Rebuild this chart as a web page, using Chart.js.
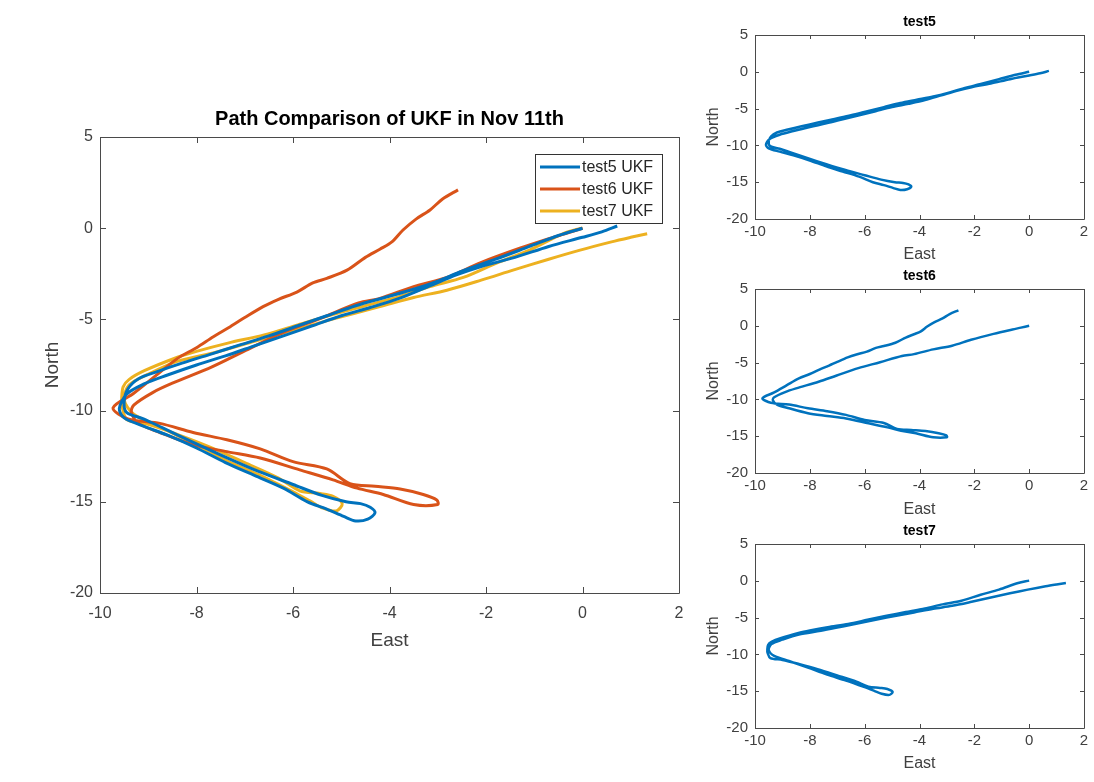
<!DOCTYPE html>
<html>
<head>
<meta charset="utf-8">
<script src="https://cdn.jsdelivr.net/npm/chart.js@4/dist/chart.umd.min.js"></script>
<style>
  html, body { margin: 0; padding: 0; background: #fff; }
  body { width: 1094px; height: 782px; position: relative; overflow: hidden; }
  canvas { position: absolute; }
</style>
</head>
<body>
<canvas id="mainChart" width="700" height="558" style="left:0px;top:95px"></canvas>
<canvas id="test5Chart" width="410" height="259" style="left:690px;top:5px"></canvas>
<canvas id="test6Chart" width="410" height="260" style="left:690px;top:259px"></canvas>
<canvas id="test7Chart" width="410" height="259" style="left:690px;top:514px"></canvas>
<script>
// axis ticks
const eastTicks = [-10, -8, -6, -4, -2, 0, 2];
const northTicks = [-20, -15, -10, -5, 0, 5];

// test5 UKF path
const east5 = [0.0, -0.5, -1.1, -1.8, -2.5, -3.0, -3.5, -4.1, -4.7, -5.3, -5.9, -6.5, -7.1, -7.7, -8.3, -8.8, -9.2, -9.42, -9.5, -9.45,
  -9.1, -8.7, -8.1, -7.4, -6.7, -6.0, -5.4, -4.9, -4.6, -4.4, -4.3, -4.45, -4.7, -4.95, -5.3, -5.7,
  -6.2, -6.8, -7.4, -8.0, -8.6, -9.1, -9.5, -9.6, -9.45,
  -9.1, -8.6, -8.0, -7.4, -6.8, -6.2, -5.6, -5.0, -4.4, -3.8, -3.2, -2.6, -2.1, -1.4, -0.7, 0.0, 0.4, 0.72];
const north5 = [0.0, -0.4, -1.0, -1.7, -2.35, -2.9, -3.35, -3.8, -4.25, -4.8, -5.35, -5.9, -6.4, -6.9, -7.4, -7.85, -8.25, -8.8, -9.5, -10.1,
  -10.45, -10.95, -11.7, -12.55, -13.35, -14.05, -14.65, -15.0, -15.1, -15.3, -15.6, -15.95, -16.05, -15.8, -15.4, -15.0,
  -14.25, -13.55, -12.85, -12.05, -11.35, -10.85, -10.4, -9.9, -9.1,
  -8.55, -8.05, -7.5, -7.0, -6.45, -5.9, -5.35, -4.8, -4.35, -3.85, -3.2, -2.55, -2.1, -1.6, -1.0, -0.5, -0.2, 0.12];

// test6 UKF path
const east6 = [-2.58, -2.9, -3.16, -3.45, -3.72, -3.95, -4.2, -4.5, -4.88, -5.3, -5.59, -5.92, -6.3, -6.62, -7.0, -7.3, -7.65, -8.0, -8.4, -8.85, -9.3, -9.73,
  -9.42, -8.76, -8.07, -7.37, -6.68, -6.0, -5.3, -4.82, -4.3, -3.78, -3.3, -3.02, -3.0,
  -3.5, -4.13, -4.67, -5.17, -5.86, -6.68, -7.37, -8.07, -8.76, -9.2, -9.35, -9.3,
  -8.9, -8.5, -7.68, -7.02, -6.23, -5.44, -4.64, -4.2, -3.5, -2.81, -2.12, -1.3, -0.61, -0.3, 0.0];
const north6 = [2.1, 1.6, 1.0, 0.5, -0.1, -0.75, -1.15, -1.6, -2.3, -2.75, -3.0, -3.5, -3.9, -4.3, -4.9, -5.4, -5.95, -6.55, -7.15, -8.1, -9.05, -9.85,
  -10.45, -10.7, -11.2, -11.6, -12.1, -12.8, -13.2, -14.0, -14.15, -14.3, -14.6, -14.9, -15.15,
  -15.15, -14.6, -14.25, -13.8, -13.25, -12.6, -12.25, -11.87, -11.2, -10.7, -10.1, -9.7,
  -9.0, -8.5, -7.6, -6.75, -5.75, -4.95, -4.1, -3.85, -3.2, -2.7, -1.9, -1.1, -0.5, -0.25, 0.0];

// test7 UKF path
const east7 = [0.0, -0.4, -1.1, -1.77, -2.47, -3.16, -3.8, -4.5, -5.2, -5.9, -6.6, -7.35, -8.0, -8.38, -9.07, -9.4, -9.52, -9.55, -9.54, -9.44,
  -9.0, -8.4, -7.72, -7.0, -6.3, -5.86, -5.44, -5.17, -4.98, -5.1, -5.38, -5.65, -6.0, -6.68, -7.37, -8.07, -8.76, -9.3, -9.5, -9.4, -9.0,
  -8.4, -7.6, -6.8, -6.0, -5.2, -4.2, -3.5, -2.81, -2.1, -1.44, -0.7, -0.05, 0.6, 1.0, 1.34];
const north7 = [0.02, -0.3, -1.2, -1.9, -2.7, -3.2, -3.75, -4.25, -4.75, -5.3, -5.85, -6.3, -6.75, -7.06, -7.8, -8.3, -8.7, -9.3, -9.8, -10.5,
  -10.75, -11.3, -12.0, -12.85, -13.7, -14.4, -14.55, -14.7, -15.1, -15.5, -15.35, -14.95, -14.45, -13.55, -12.75, -11.8, -10.9, -10.2, -9.4, -8.6, -8.0,
  -7.3, -6.8, -6.2, -5.6, -5.0, -4.3, -3.8, -3.4, -2.85, -2.3, -1.7, -1.2, -0.75, -0.5, -0.3];

const seriesNames = ['test5 UKF', 'test6 UKF', 'test7 UKF'];
const smallTitles = ['test5', 'test6', 'test7'];
const seriesColors = ['#0072BD', '#D95319', '#EDB120'];

const FONT = '"Liberation Sans", Arial, Helvetica, sans-serif';

function toPoints(xs, ys) {
  return xs.map((v, i) => ({ x: v, y: ys[i] }));
}
const paths = [toPoints(east5, north5), toPoints(east6, north6), toPoints(east7, north7)];

// matlab style box with inward ticks
const boxPlugin = {
  id: 'box',
  afterDatasetsDraw(chart, args, opts) {
    const { ctx, chartArea: a, scales: { x, y } } = chart;
    const len = opts.tick || 5;
    ctx.save();
    ctx.strokeStyle = '#4a4a4a';
    ctx.lineWidth = 1;
    ctx.beginPath();
    ctx.rect(Math.round(a.left) + 0.5, Math.round(a.top) + 0.5, Math.round(a.right - a.left), Math.round(a.bottom - a.top));
    x.ticks.forEach(t => {
      const px = Math.round(x.getPixelForValue(t.value)) + 0.5;
      ctx.moveTo(px, a.bottom); ctx.lineTo(px, a.bottom - len);
      ctx.moveTo(px, a.top); ctx.lineTo(px, a.top + len);
    });
    y.ticks.forEach(t => {
      const py = Math.round(y.getPixelForValue(t.value)) + 0.5;
      ctx.moveTo(a.left, py); ctx.lineTo(a.left + len, py);
      ctx.moveTo(a.right, py); ctx.lineTo(a.right - len, py);
    });
    ctx.stroke();
    ctx.restore();
  }
};

// legend box inside the axes, top right
const insideLegend = {
  id: 'insideLegend',
  afterDraw(chart, args, opts) {
    if (!opts.show) return;
    const { ctx, chartArea: a } = chart;
    const x0 = Math.round(a.right - 144), y0 = Math.round(a.top + 17), w = 127, h = 69;
    ctx.save();
    ctx.fillStyle = '#fff';
    ctx.fillRect(x0, y0, w, h);
    ctx.strokeStyle = '#333';
    ctx.lineWidth = 1;
    ctx.strokeRect(x0 + 0.5, y0 + 0.5, w, h);
    chart.data.datasets.forEach((ds, i) => {
      const yy = y0 + 13 + i * 22;
      ctx.strokeStyle = ds.borderColor;
      ctx.lineWidth = 3;
      ctx.beginPath();
      ctx.moveTo(x0 + 5, yy);
      ctx.lineTo(x0 + 45, yy);
      ctx.stroke();
      ctx.fillStyle = '#262626';
      ctx.font = '16px ' + FONT;
      ctx.textBaseline = 'middle';
      ctx.fillText(ds.label, x0 + 47, yy + 1);
    });
    ctx.restore();
  }
};

function makeChart(id, datasets, cfg) {
  return new Chart(document.getElementById(id), {
    type: 'scatter',
    data: { datasets: datasets },
    plugins: [boxPlugin, insideLegend],
    options: {
      responsive: false,
      animation: false,
      layout: { padding: { left: 0, right: cfg.padRight, top: 0, bottom: 0 } },
      plugins: {
        legend: { display: false },
        tooltip: { enabled: false },
        title: {
          display: true,
          fullSize: false,
          text: cfg.title,
          color: '#000',
          font: { family: FONT, size: cfg.titleSize, weight: 'bold' },
          padding: { top: cfg.titleTop, bottom: cfg.titleBottom }
        },
        box: { tick: cfg.tick },
        insideLegend: { show: cfg.legend }
      },
      scales: {
        x: {
          type: 'linear',
          min: -10, max: 2,
          afterBuildTicks: s => { s.ticks = eastTicks.map(v => ({ value: v })); },
          afterFit: s => { s.height = cfg.xHeight; },
          grid: { display: false, drawTicks: false },
          border: { display: false },
          ticks: { color: '#404040', padding: cfg.tickPad, maxRotation: 0, font: { family: FONT, size: cfg.tickSize } },
          title: { display: true, text: 'East', color: '#404040', padding: { top: 0, bottom: cfg.xTitlePad }, font: { family: FONT, size: cfg.labelSize } }
        },
        y: {
          type: 'linear',
          min: -20, max: 5,
          afterBuildTicks: s => { s.ticks = northTicks.map(v => ({ value: v })); },
          afterFit: s => { s.width = cfg.yWidth; },
          grid: { display: false, drawTicks: false },
          border: { display: false },
          ticks: { color: '#404040', padding: 7, font: { family: FONT, size: cfg.tickSize } },
          title: { display: true, text: 'North', color: '#404040', padding: { top: cfg.yTitlePad, bottom: 0 }, font: { family: FONT, size: cfg.labelSize } }
        }
      }
    }
  });
}

// main comparison chart
makeChart('mainChart', paths.map((p, i) => ({
  label: seriesNames[i],
  data: p,
  showLine: true,
  borderColor: seriesColors[i],
  backgroundColor: seriesColors[i],
  borderWidth: 3,
  pointRadius: 0,
  tension: 0.3,
  fill: false
})), {
  title: 'Path Comparison of UKF in Nov 11th', titleSize: 20, titleTop: 12, titleBottom: 6,
  padRight: 21, xHeight: 60, yWidth: 100, tickSize: 16, labelSize: 19, tickPad: 11,
  xTitlePad: 1, yTitlePad: 41, tick: 6, legend: true
});

// three single-run charts
const smallLayout = [
  { id: 'test5Chart', titleTop: 8.6, titleBottom: 4.6, xHeight: 45 },
  { id: 'test6Chart', titleTop: 8.6, titleBottom: 4.6, xHeight: 46 },
  { id: 'test7Chart', titleTop: 8.6, titleBottom: 4.6, xHeight: 45 }
];
smallLayout.forEach((l, i) => {
  makeChart(l.id, [{
    label: smallTitles[i],
    data: paths[i],
    showLine: true,
    borderColor: seriesColors[0],
    borderWidth: 2.5,
    pointRadius: 0,
    tension: 0.3,
    fill: false
  }], {
    title: smallTitles[i], titleSize: 14, titleTop: l.titleTop, titleBottom: l.titleBottom,
    padRight: 16, xHeight: l.xHeight, yWidth: 65, tickSize: 15, labelSize: 16, tickPad: 4,
    xTitlePad: 0, yTitlePad: 14, tick: 4, legend: false
  });
});
</script>
</body>
</html>
